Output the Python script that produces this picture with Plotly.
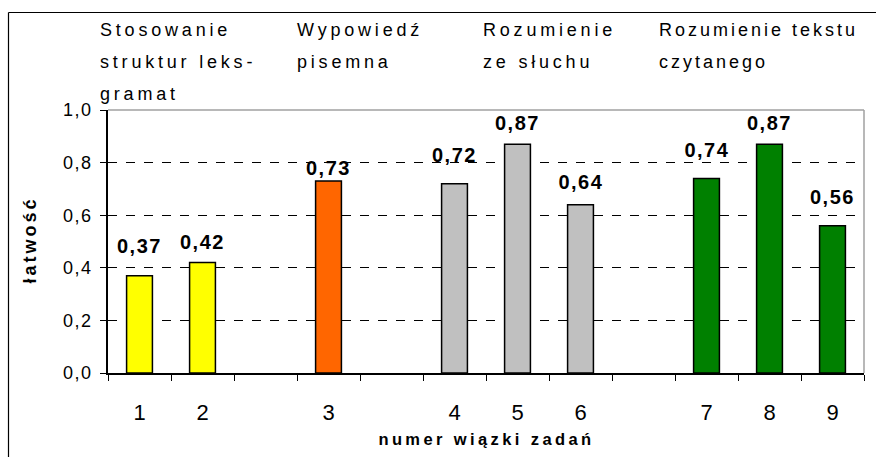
import json
import plotly.graph_objects as go

# ---- data ----
group_names = [
    ["Stosowanie", "struktur leks-", "gramat"],
    ["Wypowiedź", "pisemna"],
    ["Rozumienie", "ze słuchu"],
    ["Rozumienie tekstu", "czytanego"],
]
tasks = ["1", "2", "3", "4", "5", "6", "7", "8", "9"]
task_group = [0, 0, 1, 2, 2, 2, 3, 3, 3]
values = [0.37, 0.42, 0.73, 0.72, 0.87, 0.64, 0.74, 0.87, 0.56]
y_ticks = [0.0, 0.2, 0.4, 0.6, 0.8, 1.0]
x_title = "numer wiązki zadań"
y_title = "łatwość"

# ---- style ----
group_colors = ["#FFFF00", "#FF6600", "#C0C0C0", "#008000"]
label_shift = [17, 8, 0, 16, 8, 10, 15, 8, 16]   # px lift of each value label
header_x_px = [98, 295, 481, 657]
header_spacing = [3.8, 3.8, 3.8, 3.0]
FONT = "Liberation Sans, Arial, sans-serif"

W, H = 876, 457
ML, MR, MT, MB = 108, 12, 110, 84
pw, ph = W - ML - MR, H - MT - MB

def px_x(x):
    return (x - ML) / pw

def px_y(y):
    return (H - MB - y) / ph

# build category axis with empty gap slots between groups
categories = []
gap = 0
for i, t in enumerate(tasks):
    if i > 0 and task_group[i] != task_group[i - 1]:
        gap += 1
        categories.append(" " * gap)
    categories.append(t)

colors = [group_colors[g] for g in task_group]

fig = go.Figure()
fig.add_trace(go.Bar(
    x=tasks, y=values, width=0.41,
    marker=dict(color=colors, line=dict(color="black", width=1.5)),
    hoverinfo="skip",
))

annotations = []
spread_specs = []   # letter-spacing applied in the browser

for t, v, s in zip(tasks, values, label_shift):
    spread_specs.append(dict(i=len(annotations), ls=1.5, mode="center"))
    annotations.append(dict(
        x=categories.index(t), y=v, xref="x", yref="y",
        text=f"{v:.2f}".replace(".", ","),
        showarrow=False, yanchor="bottom", yshift=s,
        font=dict(family=FONT, size=20, color="black", weight="bold"),
    ))

for gi, lines in enumerate(group_names):
    for li, line in enumerate(lines):
        spread_specs.append(dict(i=len(annotations), ls=header_spacing[gi], mode="left"))
        annotations.append(dict(
            x=px_x(header_x_px[gi]), y=px_y(30 + 32 * li), xref="paper", yref="paper",
            text=line, showarrow=False, xanchor="left", yanchor="middle",
            font=dict(family=FONT, size=18, color="black"),
        ))

spread_specs.append(dict(i=len(annotations), ls=3.4, mode="center"))
annotations.append(dict(
    x=px_x(486), y=px_y(439), xref="paper", yref="paper", text=x_title,
    showarrow=False, xanchor="center", yanchor="middle",
    font=dict(family=FONT, size=16.5, color="black", weight="bold"),
))
spread_specs.append(dict(i=len(annotations), ls=3.0, mode="center"))
annotations.append(dict(
    x=px_x(30), y=px_y(240), xref="paper", yref="paper", text=y_title,
    showarrow=False, textangle=-90, xanchor="center", yanchor="middle",
    font=dict(family=FONT, size=18, color="black", weight="bold"),
))

shapes = [
    # outer chart frame (cropped at right and bottom)
    dict(type="line", xref="paper", yref="paper", x0=px_x(8.5), x1=px_x(W),
         y0=px_y(12.5), y1=px_y(12.5), line=dict(color="black", width=1.2), layer="above"),
    dict(type="line", xref="paper", yref="paper", x0=px_x(8.5), x1=px_x(8.5),
         y0=px_y(12.5), y1=px_y(H), line=dict(color="black", width=1.2), layer="above"),
    # grey top and right plot borders
    dict(type="line", xref="paper", yref="paper", x0=0, x1=1, y0=1, y1=1,
         line=dict(color="#A0A0A0", width=1.5), layer="above"),
    dict(type="line", xref="paper", yref="paper", x0=1, x1=1, y0=0, y1=1,
         line=dict(color="#A0A0A0", width=1.5), layer="above"),
]

fig.update_layout(
    width=W, height=H,
    margin=dict(l=ML, r=MR, t=MT, b=MB),
    paper_bgcolor="white", plot_bgcolor="white",
    separators=", ",
    showlegend=False,
    annotations=annotations,
    shapes=shapes,
    font=dict(family=FONT, color="black"),
)
fig.update_xaxes(
    type="category", categoryorder="array", categoryarray=categories,
    tickmode="array", tickvals=categories, ticktext=categories,
    range=[-0.5, len(categories) - 0.5],
    showgrid=False, showline=True, linecolor="black", linewidth=1.5,
    ticks="outside", tickson="boundaries", ticklen=6, tickcolor="black", tickwidth=1,
    tickfont=dict(family=FONT, size=22, color="black"),
    ticklabelstandoff=19,
)
fig.update_yaxes(
    range=[0, 1], tickmode="array", tickvals=y_ticks, tickformat=".1f",
    showgrid=True, gridcolor="black", griddash="dash", gridwidth=1,
    zeroline=False, showline=True, linecolor="black", linewidth=1.5,
    ticks="outside", ticklen=6, tickcolor="black", tickwidth=1,
    tickfont=dict(family=FONT, size=18, color="black"),
    ticklabelstandoff=4,
)

selectors = [dict(sel='.annotation[data-index="%d"] text.annotation-text' % s["i"],
                  ls=s["ls"], mode=s["mode"]) for s in spread_specs]
selectors.append(dict(sel=".ytick text", ls=1.5, mode="right"))

post_js = """
document.body.style.margin = '0';
var gd = document.getElementById('{plot_id}');
var specs = SPECS;
function spread(t, ls, mode) {
  var b0 = t.getBBox();
  t.style.letterSpacing = ls + 'px';
  var b1 = t.getBBox();
  var dx;
  if (mode === 'left') dx = b0.x - b1.x;
  else if (mode === 'right') dx = (b0.x + b0.width) - (b1.x + b1.width);
  else dx = (b0.x + b0.width / 2) - (b1.x + b1.width / 2);
  var nodes = [t].concat(Array.prototype.slice.call(t.querySelectorAll('tspan[x]')));
  nodes.forEach(function (n) {
    var x = n.getAttribute('x');
    if (x !== null) n.setAttribute('x', parseFloat(x) + dx);
  });
}
specs.forEach(function (s) {
  gd.querySelectorAll(s.sel).forEach(function (t) { spread(t, s.ls, s.mode); });
});
""".replace("SPECS", json.dumps(selectors))

fig.write_html("out.html", post_script=post_js, config={"displayModeBar": False})
